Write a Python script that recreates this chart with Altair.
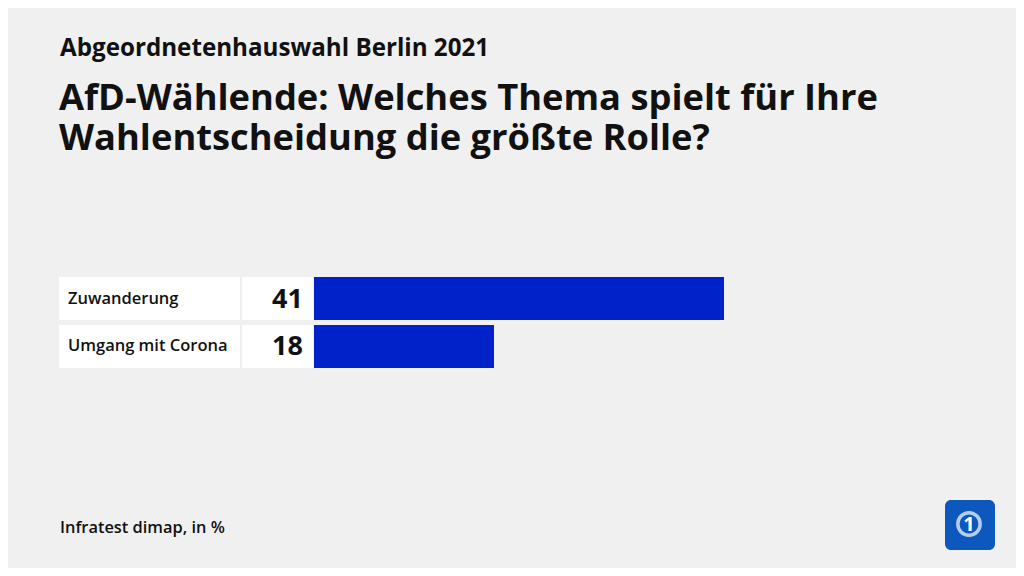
import altair as alt
import pandas as pd

categories = ["Zuwanderung", "Umgang mit Corona"]
values = [41, 18]
supertitle = "Abgeordnetenhauswahl Berlin 2021"
title_lines = ["AfD-Wählende: Welches Thema spielt für Ihre", "Wahlentscheidung die größte Rolle?"]
source = "Infratest dimap, in %"

FONT = "Open Sans"
BG = "#f0f0f0"
BAR = "#0022c8"

df = pd.DataFrame({"cat": categories, "val": values})
dummy = pd.DataFrame({"d": [0]})

yscale = alt.Scale(domain=categories, range=[269, 360], paddingInner=0.104, paddingOuter=0)
xscale = alt.Scale(domain=[0, 100], range=[306, 1306])
Y = alt.Y("cat:N", scale=yscale, axis=None)

base = alt.Chart(df)

label_box = base.mark_rect(color="white").encode(x=alt.value(51), x2=alt.value(232), y=Y)
value_box = base.mark_rect(color="white").encode(x=alt.value(234), x2=alt.value(305), y=Y)
bars = base.mark_bar(color=BAR).encode(
    x=alt.X("val:Q", scale=xscale, axis=None),
    x2=alt.value(306),
    y=Y,
)
labels = base.mark_text(align="left", baseline="middle", font=FONT, fontSize=16.5,
                        fontWeight=600, color="#111").encode(
    x=alt.value(60), y=Y, text="cat:N")
nums = base.mark_text(align="right", baseline="middle", font=FONT, fontSize=27,
                      fontWeight="bold", color="#111", dy=1).encode(
    x=alt.value(295), y=Y, text="val:Q")

def txt(s, x, y, size, weight="bold", align="left", color="#111"):
    return alt.Chart(dummy).mark_text(align=align, baseline="alphabetic", font=FONT,
                                      fontSize=size, fontWeight=weight, color=color).encode(
        x=alt.value(x), y=alt.value(y), text=alt.value(s))

sup = txt(supertitle, 52, 48, 24.2, weight="bold")
t1 = txt(title_lines[0], 51, 102, 36.3)
t2 = txt(title_lines[1], 51, 142, 36.3)
src = txt(source, 52, 525, 16.4, weight=600)

logo_bg = alt.Chart(dummy).mark_rect(color="#0c58bd", cornerRadius=6).encode(
    x=alt.value(937), x2=alt.value(987), y=alt.value(492), y2=alt.value(542))
logo_ring = alt.Chart(dummy).mark_point(shape="circle", size=500, filled=False,
                                         stroke="white", strokeWidth=3.5).encode(
    x=alt.value(961), y=alt.value(516))
logo_one = txt("1", 961, 523, 20, align="center", color="white")

chart = alt.layer(label_box, value_box, bars, labels, nums, sup, t1, t2, src,
                  logo_bg, logo_ring, logo_one).properties(
    width=1008, height=560, background=BG, padding=0,
    autosize=alt.AutoSizeParams(type="none"),
).configure_view(stroke=None)

chart.save("out.html", embed_options={"renderer": "svg", "actions": False})
